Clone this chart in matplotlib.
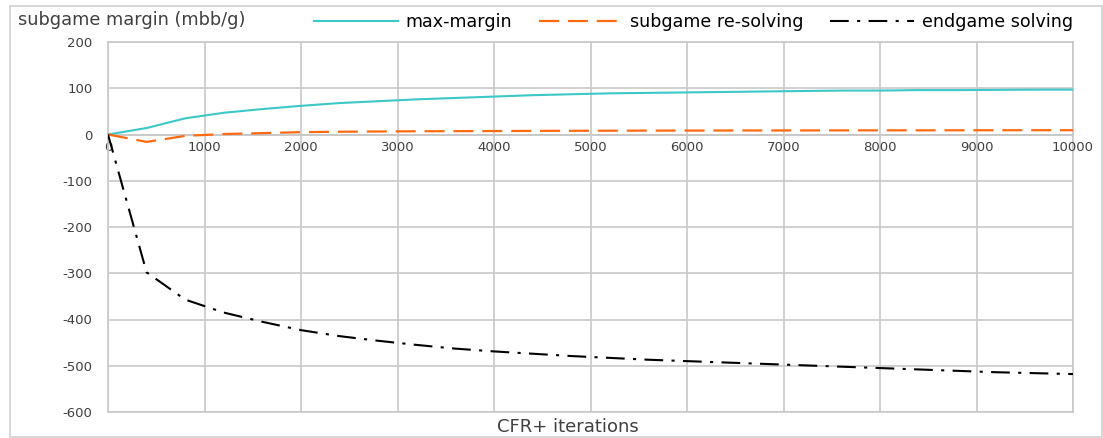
import matplotlib
matplotlib.use("Agg")
import matplotlib.pyplot as plt
from matplotlib.patches import Rectangle

plt.rcParams["axes.unicode_minus"] = False
plt.rcParams["font.family"] = ["DejaVu Sans"]

iterations = [0, 400, 800, 1200, 1600, 2000, 2400, 2800, 3200, 3600, 4000, 4400, 4800, 5200,
              5600, 6000, 6400, 6800, 7200, 7600, 8000, 8400, 8800, 9200, 9600, 10000]
max_margin = [0, 14, 35, 47, 55, 62, 68, 72, 76, 79, 82, 85, 87, 89,
              90, 91, 92, 93, 94, 95, 95, 96, 96, 96.5, 97, 97]
subgame_resolving = [0, -16, -3, 1, 3, 5, 6, 6.5, 7, 7.2, 7.5, 7.8, 8, 8.2,
                     8.4, 8.5, 8.6, 8.7, 8.8, 8.9, 9, 9, 9.1, 9.2, 9.3, 9.3]
endgame_solving = [0, -298, -357, -385, -405, -423, -436, -446, -455, -463, -469, -474, -479, -483,
                   -487, -490, -493, -496, -499, -502, -505, -508, -511, -514, -516, -518]
series_names = ["max-margin", "subgame re-solving", "endgame solving"]
x_ticks = [0, 1000, 2000, 3000, 4000, 5000, 6000, 7000, 8000, 9000, 10000]
y_ticks = [200, 100, 0, -100, -200, -300, -400, -500, -600]

W, H = 1103, 438
fig = plt.figure(figsize=(W / 100, H / 100), dpi=100)
ax = fig.add_axes([108 / W, 1 - 412 / H, (1073 - 108) / W, (412 - 42) / H])

grid_c = "#c8c8c8"
text_c = "#404040"

ax.plot(iterations, max_margin, color="#3cc8c8", lw=1.5, label=series_names[0], zorder=3)
ax.plot(iterations, subgame_resolving, color="#ff6a10", lw=1.6, dashes=(9, 4),
        label=series_names[1], zorder=3)
ax.plot(iterations, endgame_solving, color="black", lw=1.5, dashes=(9, 4, 1.5, 4),
        label=series_names[2], zorder=3)

ax.set_xlim(0, 10000)
ax.set_ylim(-600, 200)
ax.set_xticks(x_ticks)
ax.set_yticks(y_ticks)
ax.grid(True, color=grid_c, lw=1.2, zorder=0)
for s in ["top", "right"]:
    ax.spines[s].set_visible(False)
ax.spines["bottom"].set_position(("data", 0))
ax.spines["bottom"].set_color(grid_c)
ax.spines["left"].set_color(grid_c)
ax.spines["bottom"].set_linewidth(1.2)
ax.spines["left"].set_linewidth(1.2)
ax.axhline(-600, color=grid_c, lw=1.2, clip_on=False, zorder=0)
ax.axvline(10000, color=grid_c, lw=1.2, clip_on=False, zorder=0)
ax.axhline(200, color=grid_c, lw=1.2, clip_on=False, zorder=0)
ax.tick_params(length=0, labelsize=9.5, colors=text_c)
ax.tick_params(axis="x", pad=5)
ax.tick_params(axis="y", pad=11)

fig.text(18 / W, 1 - 20 / H, "subgame margin (mbb/g)", fontsize=12.8, color=text_c,
         ha="left", va="center")
fig.text(568 / W, 1 - 427 / H, "CFR+ iterations", fontsize=13, color=text_c,
         ha="center", va="center")

leg = fig.legend(loc="center left", bbox_to_anchor=(298 / W, 1 - 22 / H), ncol=3,
                 frameon=False, fontsize=12.6, handlelength=4.8, handletextpad=0.45,
                 columnspacing=1.5, labelcolor="black")

fig.patches.append(Rectangle((10 / W, 1 / H), 1092 / W, 431 / H, transform=fig.transFigure,
                             fill=False, edgecolor="#d0d0d0", lw=1.2))

fig.savefig("out.png", dpi=100)
